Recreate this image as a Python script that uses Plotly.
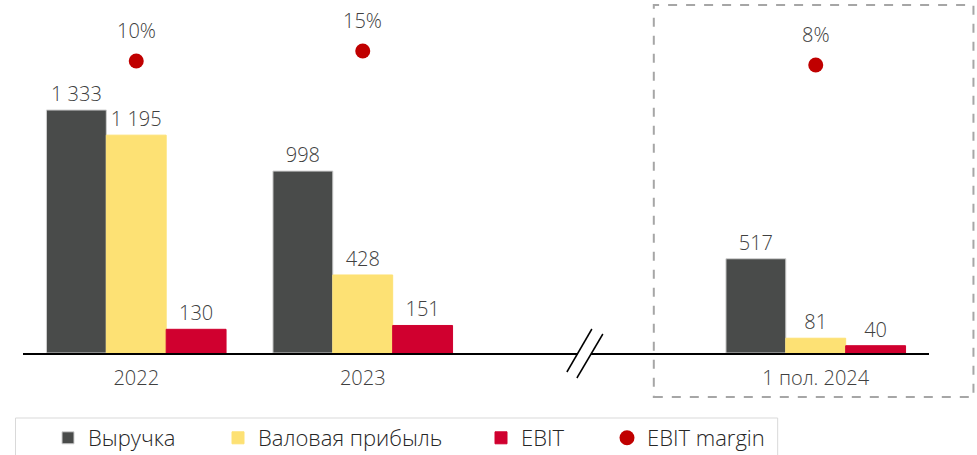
import plotly.graph_objects as go

# ---- data ----
categories = ["2022", "2023", "1 пол. 2024"]
cat_pos = [0, 1, 3]          # slot 2 left empty for the axis break
revenue = [1333, 998, 517]
gross_profit = [1195, 428, 81]
ebit = [130, 151, 40]
ebit_margin = [10, 15, 8]    # %

series_names = ["Выручка", "Валовая прибыль", "EBIT", "EBIT margin"]
colors = ["#494B4A", "#FDE174", "#D0002F", "#C00000"]

W, H = 977, 455
L, R, T, B = 22.5, 47.5, 5, 102
PW, PH = W - L - R, H - T - B
FONT = "Open Sans"
TXT = "#404040"


def fmt(v):
    return f"{v:,}".replace(",", "\u00a0")


def px(x):
    return (x - L) / PW


def py(y):
    return (H - B - y) / PH


legend_ids = ["legend", "legend2", "legend3", "legend4"]
legend_left = [48, 218, 481, 607]

fig = go.Figure()
for i, (vals, outline) in enumerate([
    (revenue, "#CFCFCF"),
    (gross_profit, colors[1]),
    (ebit, colors[2]),
]):
    fig.add_trace(go.Bar(
        x=cat_pos, y=vals, name=series_names[i], legend=legend_ids[i],
        marker=dict(color=colors[i], line=dict(color=outline, width=1)),
        text=[fmt(v) for v in vals], textposition="outside",
        textfont=dict(family=FONT, size=20, color=TXT, weight=300),
        cliponaxis=False,
    ))

fig.add_trace(go.Scatter(
    x=cat_pos, y=ebit_margin, name=series_names[3], yaxis="y2",
    legend=legend_ids[3],
    mode="markers", marker=dict(color=colors[3], size=15),
    cliponaxis=False,
))

annotations = [
    dict(x=xp, y=m, xref="x", yref="y2", text=f"{m}%", showarrow=False,
         yshift=31, font=dict(family=FONT, size=20, color=TXT, weight=300))
    for xp, m in zip(cat_pos, ebit_margin)
]

shapes = [
    # dashed frame around the half-year
    dict(type="rect", xref="paper", yref="paper",
         x0=px(654), x1=px(974), y0=py(397), y1=py(5),
         line=dict(color="#A6A6A6", width=2, dash="dash"), layer="above"),
    # axis break
    dict(type="rect", xref="paper", yref="paper",
         x0=px(578), x1=px(591), y0=py(357), y1=py(349),
         fillcolor="white", line=dict(width=0), layer="above"),
    dict(type="line", xref="paper", yref="paper",
         x0=px(567), y0=py(372), x1=px(592), y1=py(329),
         line=dict(color="black", width=1.5), layer="above"),
    dict(type="line", xref="paper", yref="paper",
         x0=px(577), y0=py(378), x1=px(603), y1=py(334),
         line=dict(color="black", width=1.5), layer="above"),
    # legend frame
    dict(type="rect", xref="paper", yref="paper",
         x0=px(15), x1=px(778), y0=py(470), y1=py(418),
         line=dict(color="#D9D9D9", width=1), layer="below"),
]

legend_common = dict(orientation="h", xref="container", yref="container",
                     xanchor="left", yanchor="middle", y=1 - 438 / H,
                     borderwidth=0, bgcolor="rgba(0,0,0,0)",
                     font=dict(family=FONT, size=22, color="#262626",
                               weight=300))
legends = {lid: dict(legend_common, x=xl / W)
           for lid, xl in zip(legend_ids, legend_left)}

scale = 243 / 1333  # px per unit
fig.update_layout(
    width=W, height=H,
    margin=dict(l=L, r=R, t=T, b=B, pad=0, autoexpand=False),
    paper_bgcolor="white", plot_bgcolor="white",
    barmode="group", bargap=1 - 180 / 227, bargroupgap=0,
    font=dict(family=FONT, size=20, color=TXT, weight=300),
    xaxis=dict(range=[-0.5, 3.5], tickvals=cat_pos, ticktext=categories,
               showgrid=False, zeroline=False, showline=True,
               linecolor="black", linewidth=2, ticks="", ticklabelstandoff=6,
               tickfont=dict(family=FONT, size=20, color=TXT, weight=300),
               fixedrange=True, automargin=False),
    yaxis=dict(range=[0, PH / scale], visible=False, showgrid=False),
    yaxis2=dict(range=[-(H - B - 81) / 2, (81 - T) / 2], overlaying="y",
                visible=False, showgrid=False),
    showlegend=True,
    annotations=annotations,
    shapes=shapes,
    **legends,
)

fig.write_html("out.html",
               config={"displayModeBar": False},
               post_script="document.body.style.margin='0';")
